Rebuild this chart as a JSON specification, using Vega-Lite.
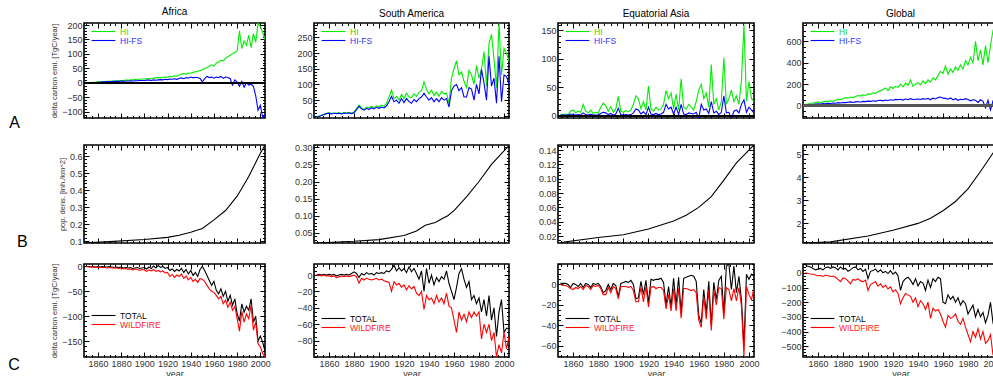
{
"$schema":"https://vega.github.io/schema/vega-lite/v6.json",
"background":"white",
"padding":{"left":8,"top":6,"right":0,"bottom":0},
"config":{
 "font":"Liberation Sans",
 "view":{"stroke":"black","strokeWidth":1.6},
 "axis":{"grid":false,"domain":false,"ticks":true,"tickSize":-5,"tickColor":"black","tickWidth":1,"labelFontSize":9,"labelColor":"#333","labelPadding":7,"titleFontSize":7.5,"titleFontWeight":"normal","titleColor":"#333"},
 "axisY":{"titlePadding":3},
 "axisX":{"titleFontSize":9,"titlePadding":1,"format":"d"},
 "title":{"fontSize":10,"fontWeight":"normal","offset":4,"font":"Liberation Sans"},
 "legend":{"symbolType":"M-3.4,0H3.4","symbolSize":49,"symbolStrokeWidth":1.3,"labelFontSize":8.5,"rowPadding":-1,"padding":0,"labelOffset":12},
 "line":{"strokeWidth":1.1},
 "point":{"opacity":0,"size":1}
},
"datasets":{
"ts":[
{"r":"AF","year":1850,"HI":0,"HI-FS":0,"TOTAL":0,"WILDFIRE":0},
{"r":"AF","year":1852,"HI":1,"HI-FS":0,"TOTAL":0,"WILDFIRE":-1},
{"r":"AF","year":1854,"HI":1,"HI-FS":1,"TOTAL":-1,"WILDFIRE":-1},
{"r":"AF","year":1856,"HI":2,"HI-FS":1,"TOTAL":0,"WILDFIRE":-1},
{"r":"AF","year":1858,"HI":2,"HI-FS":1,"TOTAL":-1,"WILDFIRE":-2},
{"r":"AF","year":1860,"HI":3,"HI-FS":2,"TOTAL":0,"WILDFIRE":-1},
{"r":"AF","year":1862,"HI":3,"HI-FS":2,"TOTAL":-1,"WILDFIRE":-2},
{"r":"AF","year":1864,"HI":4,"HI-FS":3,"TOTAL":0,"WILDFIRE":-2},
{"r":"AF","year":1866,"HI":4,"HI-FS":3,"TOTAL":-1,"WILDFIRE":-2},
{"r":"AF","year":1868,"HI":5,"HI-FS":4,"TOTAL":-1,"WILDFIRE":-3},
{"r":"AF","year":1870,"HI":5,"HI-FS":4,"TOTAL":0,"WILDFIRE":-2},
{"r":"AF","year":1872,"HI":6,"HI-FS":4,"TOTAL":-1,"WILDFIRE":-3},
{"r":"AF","year":1874,"HI":6,"HI-FS":5,"TOTAL":-2,"WILDFIRE":-3},
{"r":"AF","year":1876,"HI":7,"HI-FS":5,"TOTAL":-1,"WILDFIRE":-3},
{"r":"AF","year":1878,"HI":7,"HI-FS":5,"TOTAL":-2,"WILDFIRE":-4},
{"r":"AF","year":1880,"HI":8,"HI-FS":6,"TOTAL":-1,"WILDFIRE":-3},
{"r":"AF","year":1882,"HI":8,"HI-FS":5,"TOTAL":-3,"WILDFIRE":-5},
{"r":"AF","year":1884,"HI":9,"HI-FS":6,"TOTAL":-2,"WILDFIRE":-4},
{"r":"AF","year":1886,"HI":9,"HI-FS":6,"TOTAL":-3,"WILDFIRE":-6},
{"r":"AF","year":1888,"HI":10,"HI-FS":7,"TOTAL":-2,"WILDFIRE":-5},
{"r":"AF","year":1890,"HI":10,"HI-FS":6,"TOTAL":-4,"WILDFIRE":-7},
{"r":"AF","year":1892,"HI":11,"HI-FS":7,"TOTAL":-3,"WILDFIRE":-5},
{"r":"AF","year":1894,"HI":12,"HI-FS":7,"TOTAL":-2,"WILDFIRE":-6},
{"r":"AF","year":1896,"HI":12,"HI-FS":8,"TOTAL":-4,"WILDFIRE":-8},
{"r":"AF","year":1898,"HI":13,"HI-FS":8,"TOTAL":-3,"WILDFIRE":-6},
{"r":"AF","year":1900,"HI":13,"HI-FS":8,"TOTAL":-2,"WILDFIRE":-7},
{"r":"AF","year":1902,"HI":14,"HI-FS":9,"TOTAL":-5,"WILDFIRE":-10},
{"r":"AF","year":1904,"HI":15,"HI-FS":9,"TOTAL":-1,"WILDFIRE":-7},
{"r":"AF","year":1906,"HI":14,"HI-FS":8,"TOTAL":-4,"WILDFIRE":-9},
{"r":"AF","year":1908,"HI":16,"HI-FS":10,"TOTAL":1,"WILDFIRE":-6},
{"r":"AF","year":1910,"HI":17,"HI-FS":9,"TOTAL":-3,"WILDFIRE":-10},
{"r":"AF","year":1912,"HI":18,"HI-FS":10,"TOTAL":2,"WILDFIRE":-8},
{"r":"AF","year":1914,"HI":17,"HI-FS":11,"TOTAL":-2,"WILDFIRE":-11},
{"r":"AF","year":1916,"HI":19,"HI-FS":10,"TOTAL":0,"WILDFIRE":-9},
{"r":"AF","year":1918,"HI":20,"HI-FS":12,"TOTAL":-4,"WILDFIRE":-13},
{"r":"AF","year":1920,"HI":19,"HI-FS":11,"TOTAL":-2,"WILDFIRE":-12},
{"r":"AF","year":1922,"HI":22,"HI-FS":13,"TOTAL":-8,"WILDFIRE":-20},
{"r":"AF","year":1924,"HI":21,"HI-FS":12,"TOTAL":-5,"WILDFIRE":-16},
{"r":"AF","year":1926,"HI":24,"HI-FS":14,"TOTAL":-10,"WILDFIRE":-22},
{"r":"AF","year":1928,"HI":23,"HI-FS":12,"TOTAL":-6,"WILDFIRE":-17},
{"r":"AF","year":1930,"HI":27,"HI-FS":15,"TOTAL":-9,"WILDFIRE":-20},
{"r":"AF","year":1932,"HI":30,"HI-FS":17,"TOTAL":-4,"WILDFIRE":-15},
{"r":"AF","year":1934,"HI":32,"HI-FS":14,"TOTAL":-12,"WILDFIRE":-24},
{"r":"AF","year":1936,"HI":30,"HI-FS":18,"TOTAL":-6,"WILDFIRE":-19},
{"r":"AF","year":1938,"HI":34,"HI-FS":16,"TOTAL":-15,"WILDFIRE":-27},
{"r":"AF","year":1940,"HI":33,"HI-FS":20,"TOTAL":-8,"WILDFIRE":-22},
{"r":"AF","year":1942,"HI":36,"HI-FS":17,"TOTAL":-18,"WILDFIRE":-30},
{"r":"AF","year":1944,"HI":38,"HI-FS":19,"TOTAL":-12,"WILDFIRE":-26},
{"r":"AF","year":1946,"HI":40,"HI-FS":18,"TOTAL":-20,"WILDFIRE":-32},
{"r":"AF","year":1948,"HI":42,"HI-FS":15,"TOTAL":-6,"WILDFIRE":-24},
{"r":"AF","year":1950,"HI":45,"HI-FS":3,"TOTAL":0,"WILDFIRE":-26},
{"r":"AF","year":1952,"HI":50,"HI-FS":14,"TOTAL":-8,"WILDFIRE":-30},
{"r":"AF","year":1954,"HI":52,"HI-FS":22,"TOTAL":-18,"WILDFIRE":-38},
{"r":"AF","year":1956,"HI":58,"HI-FS":18,"TOTAL":-28,"WILDFIRE":-45},
{"r":"AF","year":1958,"HI":62,"HI-FS":20,"TOTAL":-38,"WILDFIRE":-50},
{"r":"AF","year":1960,"HI":58,"HI-FS":16,"TOTAL":-30,"WILDFIRE":-52},
{"r":"AF","year":1962,"HI":68,"HI-FS":20,"TOTAL":-48,"WILDFIRE":-58},
{"r":"AF","year":1964,"HI":72,"HI-FS":18,"TOTAL":-55,"WILDFIRE":-65},
{"r":"AF","year":1966,"HI":78,"HI-FS":22,"TOTAL":-45,"WILDFIRE":-60},
{"r":"AF","year":1968,"HI":76,"HI-FS":15,"TOTAL":-60,"WILDFIRE":-75},
{"r":"AF","year":1970,"HI":85,"HI-FS":20,"TOTAL":-50,"WILDFIRE":-68},
{"r":"AF","year":1972,"HI":90,"HI-FS":18,"TOTAL":-70,"WILDFIRE":-82},
{"r":"AF","year":1974,"HI":95,"HI-FS":14,"TOTAL":-58,"WILDFIRE":-72},
{"r":"AF","year":1976,"HI":100,"HI-FS":-8,"TOTAL":-78,"WILDFIRE":-88},
{"r":"AF","year":1978,"HI":105,"HI-FS":10,"TOTAL":-65,"WILDFIRE":-80},
{"r":"AF","year":1980,"HI":110,"HI-FS":2,"TOTAL":-95,"WILDFIRE":-105},
{"r":"AF","year":1982,"HI":180,"HI-FS":-12,"TOTAL":-110,"WILDFIRE":-130},
{"r":"AF","year":1984,"HI":118,"HI-FS":5,"TOTAL":-75,"WILDFIRE":-90},
{"r":"AF","year":1986,"HI":145,"HI-FS":-15,"TOTAL":-92,"WILDFIRE":-112},
{"r":"AF","year":1988,"HI":130,"HI-FS":0,"TOTAL":-80,"WILDFIRE":-95},
{"r":"AF","year":1990,"HI":165,"HI-FS":-8,"TOTAL":-88,"WILDFIRE":-105},
{"r":"AF","year":1992,"HI":122,"HI-FS":-5,"TOTAL":-65,"WILDFIRE":-78},
{"r":"AF","year":1994,"HI":170,"HI-FS":-12,"TOTAL":-112,"WILDFIRE":-128},
{"r":"AF","year":1996,"HI":140,"HI-FS":-45,"TOTAL":-100,"WILDFIRE":-112},
{"r":"AF","year":1998,"HI":205,"HI-FS":-95,"TOTAL":-150,"WILDFIRE":-155},
{"r":"AF","year":2000,"HI":195,"HI-FS":-78,"TOTAL":-140,"WILDFIRE":-162},
{"r":"AF","year":2002,"HI":175,"HI-FS":-120,"TOTAL":-152,"WILDFIRE":-175},
{"r":"AF","year":2004,"HI":150,"HI-FS":-110,"TOTAL":-170,"WILDFIRE":-182},
{"r":"SA","year":1850,"HI":-3,"HI-FS":-3,"TOTAL":0,"WILDFIRE":0},
{"r":"SA","year":1852,"HI":-1,"HI-FS":-2,"TOTAL":1,"WILDFIRE":0},
{"r":"SA","year":1854,"HI":2,"HI-FS":1,"TOTAL":0,"WILDFIRE":-1},
{"r":"SA","year":1856,"HI":5,"HI-FS":4,"TOTAL":1,"WILDFIRE":0},
{"r":"SA","year":1858,"HI":8,"HI-FS":7,"TOTAL":0,"WILDFIRE":-1},
{"r":"SA","year":1860,"HI":10,"HI-FS":8,"TOTAL":1,"WILDFIRE":-1},
{"r":"SA","year":1862,"HI":7,"HI-FS":6,"TOTAL":0,"WILDFIRE":-2},
{"r":"SA","year":1864,"HI":9,"HI-FS":8,"TOTAL":1,"WILDFIRE":-1},
{"r":"SA","year":1866,"HI":8,"HI-FS":7,"TOTAL":-1,"WILDFIRE":-3},
{"r":"SA","year":1868,"HI":10,"HI-FS":8,"TOTAL":0,"WILDFIRE":-2},
{"r":"SA","year":1870,"HI":7,"HI-FS":6,"TOTAL":1,"WILDFIRE":-1},
{"r":"SA","year":1872,"HI":10,"HI-FS":9,"TOTAL":0,"WILDFIRE":-2},
{"r":"SA","year":1874,"HI":9,"HI-FS":8,"TOTAL":1,"WILDFIRE":-1},
{"r":"SA","year":1876,"HI":11,"HI-FS":9,"TOTAL":0,"WILDFIRE":-2},
{"r":"SA","year":1878,"HI":8,"HI-FS":7,"TOTAL":2,"WILDFIRE":-1},
{"r":"SA","year":1880,"HI":12,"HI-FS":10,"TOTAL":4,"WILDFIRE":0},
{"r":"SA","year":1882,"HI":22,"HI-FS":20,"TOTAL":2,"WILDFIRE":-2},
{"r":"SA","year":1884,"HI":35,"HI-FS":30,"TOTAL":-3,"WILDFIRE":-10},
{"r":"SA","year":1886,"HI":25,"HI-FS":22,"TOTAL":2,"WILDFIRE":-4},
{"r":"SA","year":1888,"HI":20,"HI-FS":18,"TOTAL":0,"WILDFIRE":-6},
{"r":"SA","year":1890,"HI":28,"HI-FS":24,"TOTAL":3,"WILDFIRE":-4},
{"r":"SA","year":1892,"HI":25,"HI-FS":20,"TOTAL":1,"WILDFIRE":-5},
{"r":"SA","year":1894,"HI":30,"HI-FS":26,"TOTAL":2,"WILDFIRE":-6},
{"r":"SA","year":1896,"HI":26,"HI-FS":22,"TOTAL":0,"WILDFIRE":-5},
{"r":"SA","year":1898,"HI":32,"HI-FS":27,"TOTAL":3,"WILDFIRE":-4},
{"r":"SA","year":1900,"HI":28,"HI-FS":24,"TOTAL":2,"WILDFIRE":-6},
{"r":"SA","year":1902,"HI":34,"HI-FS":28,"TOTAL":3,"WILDFIRE":-5},
{"r":"SA","year":1904,"HI":30,"HI-FS":25,"TOTAL":2,"WILDFIRE":-7},
{"r":"SA","year":1906,"HI":40,"HI-FS":32,"TOTAL":5,"WILDFIRE":-8},
{"r":"SA","year":1908,"HI":60,"HI-FS":45,"TOTAL":4,"WILDFIRE":-9},
{"r":"SA","year":1910,"HI":82,"HI-FS":62,"TOTAL":7,"WILDFIRE":-20},
{"r":"SA","year":1912,"HI":55,"HI-FS":45,"TOTAL":12,"WILDFIRE":-8},
{"r":"SA","year":1914,"HI":62,"HI-FS":50,"TOTAL":5,"WILDFIRE":-12},
{"r":"SA","year":1916,"HI":50,"HI-FS":40,"TOTAL":9,"WILDFIRE":-10},
{"r":"SA","year":1918,"HI":68,"HI-FS":55,"TOTAL":5,"WILDFIRE":-15},
{"r":"SA","year":1920,"HI":55,"HI-FS":42,"TOTAL":8,"WILDFIRE":-12},
{"r":"SA","year":1922,"HI":72,"HI-FS":55,"TOTAL":3,"WILDFIRE":-18},
{"r":"SA","year":1924,"HI":60,"HI-FS":45,"TOTAL":10,"WILDFIRE":-13},
{"r":"SA","year":1926,"HI":58,"HI-FS":40,"TOTAL":4,"WILDFIRE":-17},
{"r":"SA","year":1928,"HI":70,"HI-FS":52,"TOTAL":8,"WILDFIRE":-14},
{"r":"SA","year":1930,"HI":62,"HI-FS":45,"TOTAL":2,"WILDFIRE":-22},
{"r":"SA","year":1932,"HI":75,"HI-FS":55,"TOTAL":-5,"WILDFIRE":-25},
{"r":"SA","year":1934,"HI":80,"HI-FS":60,"TOTAL":5,"WILDFIRE":-20},
{"r":"SA","year":1936,"HI":108,"HI-FS":72,"TOTAL":-20,"WILDFIRE":-42},
{"r":"SA","year":1938,"HI":85,"HI-FS":60,"TOTAL":8,"WILDFIRE":-25},
{"r":"SA","year":1940,"HI":70,"HI-FS":50,"TOTAL":-10,"WILDFIRE":-30},
{"r":"SA","year":1942,"HI":82,"HI-FS":58,"TOTAL":0,"WILDFIRE":-28},
{"r":"SA","year":1944,"HI":65,"HI-FS":45,"TOTAL":-12,"WILDFIRE":-35},
{"r":"SA","year":1946,"HI":75,"HI-FS":55,"TOTAL":-3,"WILDFIRE":-25},
{"r":"SA","year":1948,"HI":62,"HI-FS":45,"TOTAL":-8,"WILDFIRE":-33},
{"r":"SA","year":1950,"HI":78,"HI-FS":58,"TOTAL":-2,"WILDFIRE":-28},
{"r":"SA","year":1952,"HI":70,"HI-FS":50,"TOTAL":-5,"WILDFIRE":-35},
{"r":"SA","year":1954,"HI":72,"HI-FS":55,"TOTAL":5,"WILDFIRE":-22},
{"r":"SA","year":1956,"HI":40,"HI-FS":28,"TOTAL":-10,"WILDFIRE":-38},
{"r":"SA","year":1958,"HI":120,"HI-FS":80,"TOTAL":-20,"WILDFIRE":-40},
{"r":"SA","year":1960,"HI":150,"HI-FS":95,"TOTAL":-30,"WILDFIRE":-55},
{"r":"SA","year":1962,"HI":175,"HI-FS":100,"TOTAL":-15,"WILDFIRE":-70},
{"r":"SA","year":1964,"HI":130,"HI-FS":80,"TOTAL":2,"WILDFIRE":-45},
{"r":"SA","year":1966,"HI":140,"HI-FS":90,"TOTAL":8,"WILDFIRE":-55},
{"r":"SA","year":1968,"HI":110,"HI-FS":60,"TOTAL":-5,"WILDFIRE":-48},
{"r":"SA","year":1970,"HI":90,"HI-FS":60,"TOTAL":-15,"WILDFIRE":-57},
{"r":"SA","year":1972,"HI":145,"HI-FS":90,"TOTAL":-8,"WILDFIRE":-45},
{"r":"SA","year":1974,"HI":130,"HI-FS":85,"TOTAL":-30,"WILDFIRE":-52},
{"r":"SA","year":1976,"HI":100,"HI-FS":50,"TOTAL":-25,"WILDFIRE":-45},
{"r":"SA","year":1978,"HI":160,"HI-FS":100,"TOTAL":-35,"WILDFIRE":-50},
{"r":"SA","year":1980,"HI":120,"HI-FS":70,"TOTAL":-28,"WILDFIRE":-45},
{"r":"SA","year":1982,"HI":150,"HI-FS":148,"TOTAL":-45,"WILDFIRE":-78},
{"r":"SA","year":1984,"HI":205,"HI-FS":105,"TOTAL":-30,"WILDFIRE":-60},
{"r":"SA","year":1986,"HI":95,"HI-FS":50,"TOTAL":-50,"WILDFIRE":-70},
{"r":"SA","year":1988,"HI":230,"HI-FS":190,"TOTAL":-25,"WILDFIRE":-60},
{"r":"SA","year":1990,"HI":260,"HI-FS":95,"TOTAL":-55,"WILDFIRE":-80},
{"r":"SA","year":1992,"HI":180,"HI-FS":120,"TOTAL":-40,"WILDFIRE":-70},
{"r":"SA","year":1994,"HI":90,"HI-FS":40,"TOTAL":-75,"WILDFIRE":-100},
{"r":"SA","year":1996,"HI":295,"HI-FS":190,"TOTAL":-45,"WILDFIRE":-85},
{"r":"SA","year":1998,"HI":130,"HI-FS":45,"TOTAL":-30,"WILDFIRE":-95},
{"r":"SA","year":2000,"HI":215,"HI-FS":130,"TOTAL":-70,"WILDFIRE":-70},
{"r":"SA","year":2002,"HI":200,"HI-FS":125,"TOTAL":-65,"WILDFIRE":-90},
{"r":"SA","year":2004,"HI":175,"HI-FS":100,"TOTAL":-65,"WILDFIRE":-75},
{"r":"EA","year":1850,"HI":2,"HI-FS":1,"TOTAL":1,"WILDFIRE":0},
{"r":"EA","year":1852,"HI":2,"HI-FS":1,"TOTAL":1,"WILDFIRE":-1},
{"r":"EA","year":1854,"HI":3,"HI-FS":1,"TOTAL":1,"WILDFIRE":-1},
{"r":"EA","year":1856,"HI":2,"HI-FS":1,"TOTAL":0,"WILDFIRE":-2},
{"r":"EA","year":1858,"HI":8,"HI-FS":3,"TOTAL":-3,"WILDFIRE":-4},
{"r":"EA","year":1860,"HI":10,"HI-FS":2,"TOTAL":1,"WILDFIRE":-5},
{"r":"EA","year":1862,"HI":5,"HI-FS":1,"TOTAL":0,"WILDFIRE":-3},
{"r":"EA","year":1864,"HI":8,"HI-FS":2,"TOTAL":-2,"WILDFIRE":-4},
{"r":"EA","year":1866,"HI":6,"HI-FS":1,"TOTAL":1,"WILDFIRE":-2},
{"r":"EA","year":1868,"HI":20,"HI-FS":5,"TOTAL":-3,"WILDFIRE":-5},
{"r":"EA","year":1870,"HI":8,"HI-FS":2,"TOTAL":1,"WILDFIRE":-1},
{"r":"EA","year":1872,"HI":5,"HI-FS":1,"TOTAL":0,"WILDFIRE":-2},
{"r":"EA","year":1874,"HI":10,"HI-FS":3,"TOTAL":-3,"WILDFIRE":-5},
{"r":"EA","year":1876,"HI":4,"HI-FS":1,"TOTAL":1,"WILDFIRE":-1},
{"r":"EA","year":1878,"HI":6,"HI-FS":1,"TOTAL":0,"WILDFIRE":-2},
{"r":"EA","year":1880,"HI":5,"HI-FS":1,"TOTAL":1,"WILDFIRE":-1},
{"r":"EA","year":1882,"HI":15,"HI-FS":4,"TOTAL":-2,"WILDFIRE":-4},
{"r":"EA","year":1884,"HI":22,"HI-FS":6,"TOTAL":-8,"WILDFIRE":-10},
{"r":"EA","year":1886,"HI":18,"HI-FS":5,"TOTAL":-6,"WILDFIRE":-10},
{"r":"EA","year":1888,"HI":8,"HI-FS":2,"TOTAL":0,"WILDFIRE":-3},
{"r":"EA","year":1890,"HI":16,"HI-FS":4,"TOTAL":-5,"WILDFIRE":-8},
{"r":"EA","year":1892,"HI":6,"HI-FS":1,"TOTAL":1,"WILDFIRE":-2},
{"r":"EA","year":1894,"HI":12,"HI-FS":3,"TOTAL":-1,"WILDFIRE":-4},
{"r":"EA","year":1896,"HI":34,"HI-FS":13,"TOTAL":-12,"WILDFIRE":-14},
{"r":"EA","year":1898,"HI":8,"HI-FS":2,"TOTAL":1,"WILDFIRE":-2},
{"r":"EA","year":1900,"HI":6,"HI-FS":1,"TOTAL":2,"WILDFIRE":-2},
{"r":"EA","year":1902,"HI":9,"HI-FS":2,"TOTAL":3,"WILDFIRE":-2},
{"r":"EA","year":1904,"HI":7,"HI-FS":1,"TOTAL":2,"WILDFIRE":-3},
{"r":"EA","year":1906,"HI":10,"HI-FS":2,"TOTAL":4,"WILDFIRE":-2},
{"r":"EA","year":1908,"HI":20,"HI-FS":5,"TOTAL":0,"WILDFIRE":-6},
{"r":"EA","year":1910,"HI":35,"HI-FS":12,"TOTAL":-14,"WILDFIRE":-17},
{"r":"EA","year":1912,"HI":30,"HI-FS":10,"TOTAL":-13,"WILDFIRE":-17},
{"r":"EA","year":1914,"HI":12,"HI-FS":3,"TOTAL":3,"WILDFIRE":-3},
{"r":"EA","year":1916,"HI":25,"HI-FS":7,"TOTAL":-10,"WILDFIRE":-17},
{"r":"EA","year":1918,"HI":10,"HI-FS":2,"TOTAL":4,"WILDFIRE":-2},
{"r":"EA","year":1920,"HI":52,"HI-FS":15,"TOTAL":-18,"WILDFIRE":-22},
{"r":"EA","year":1922,"HI":12,"HI-FS":3,"TOTAL":5,"WILDFIRE":-3},
{"r":"EA","year":1924,"HI":8,"HI-FS":2,"TOTAL":4,"WILDFIRE":-2},
{"r":"EA","year":1926,"HI":15,"HI-FS":4,"TOTAL":5,"WILDFIRE":-4},
{"r":"EA","year":1928,"HI":10,"HI-FS":2,"TOTAL":5,"WILDFIRE":-3},
{"r":"EA","year":1930,"HI":12,"HI-FS":3,"TOTAL":6,"WILDFIRE":-3},
{"r":"EA","year":1932,"HI":20,"HI-FS":6,"TOTAL":2,"WILDFIRE":-6},
{"r":"EA","year":1934,"HI":44,"HI-FS":20,"TOTAL":-20,"WILDFIRE":-24},
{"r":"EA","year":1936,"HI":30,"HI-FS":12,"TOTAL":-2,"WILDFIRE":-10},
{"r":"EA","year":1938,"HI":40,"HI-FS":15,"TOTAL":-22,"WILDFIRE":-26},
{"r":"EA","year":1940,"HI":12,"HI-FS":3,"TOTAL":6,"WILDFIRE":-4},
{"r":"EA","year":1942,"HI":38,"HI-FS":15,"TOTAL":-20,"WILDFIRE":-26},
{"r":"EA","year":1944,"HI":10,"HI-FS":2,"TOTAL":7,"WILDFIRE":-4},
{"r":"EA","year":1946,"HI":65,"HI-FS":20,"TOTAL":-28,"WILDFIRE":-33},
{"r":"EA","year":1948,"HI":15,"HI-FS":3,"TOTAL":6,"WILDFIRE":-4},
{"r":"EA","year":1950,"HI":12,"HI-FS":2,"TOTAL":7,"WILDFIRE":-4},
{"r":"EA","year":1952,"HI":20,"HI-FS":5,"TOTAL":8,"WILDFIRE":-5},
{"r":"EA","year":1954,"HI":15,"HI-FS":4,"TOTAL":9,"WILDFIRE":-6},
{"r":"EA","year":1956,"HI":10,"HI-FS":3,"TOTAL":8,"WILDFIRE":-5},
{"r":"EA","year":1958,"HI":25,"HI-FS":6,"TOTAL":3,"WILDFIRE":-8},
{"r":"EA","year":1960,"HI":45,"HI-FS":-5,"TOTAL":-30,"WILDFIRE":-35},
{"r":"EA","year":1962,"HI":55,"HI-FS":20,"TOTAL":-38,"WILDFIRE":-42},
{"r":"EA","year":1964,"HI":30,"HI-FS":10,"TOTAL":-5,"WILDFIRE":-12},
{"r":"EA","year":1966,"HI":40,"HI-FS":12,"TOTAL":-28,"WILDFIRE":-34},
{"r":"EA","year":1968,"HI":15,"HI-FS":4,"TOTAL":3,"WILDFIRE":-5},
{"r":"EA","year":1970,"HI":90,"HI-FS":25,"TOTAL":-40,"WILDFIRE":-45},
{"r":"EA","year":1972,"HI":20,"HI-FS":5,"TOTAL":2,"WILDFIRE":-6},
{"r":"EA","year":1974,"HI":30,"HI-FS":8,"TOTAL":-15,"WILDFIRE":-20},
{"r":"EA","year":1976,"HI":10,"HI-FS":2,"TOTAL":4,"WILDFIRE":-3},
{"r":"EA","year":1978,"HI":25,"HI-FS":6,"TOTAL":8,"WILDFIRE":-4},
{"r":"EA","year":1980,"HI":102,"HI-FS":35,"TOTAL":-28,"WILDFIRE":-34},
{"r":"EA","year":1982,"HI":20,"HI-FS":5,"TOTAL":18,"WILDFIRE":-3},
{"r":"EA","year":1984,"HI":30,"HI-FS":6,"TOTAL":20,"WILDFIRE":-5},
{"r":"EA","year":1986,"HI":45,"HI-FS":-5,"TOTAL":-5,"WILDFIRE":-16},
{"r":"EA","year":1988,"HI":25,"HI-FS":8,"TOTAL":18,"WILDFIRE":-4},
{"r":"EA","year":1990,"HI":35,"HI-FS":10,"TOTAL":-8,"WILDFIRE":-16},
{"r":"EA","year":1992,"HI":20,"HI-FS":5,"TOTAL":8,"WILDFIRE":-3},
{"r":"EA","year":1994,"HI":62,"HI-FS":20,"TOTAL":-15,"WILDFIRE":-21},
{"r":"EA","year":1996,"HI":160,"HI-FS":28,"TOTAL":-60,"WILDFIRE":-70},
{"r":"EA","year":1998,"HI":25,"HI-FS":6,"TOTAL":10,"WILDFIRE":-2},
{"r":"EA","year":2000,"HI":60,"HI-FS":15,"TOTAL":5,"WILDFIRE":-10},
{"r":"EA","year":2002,"HI":30,"HI-FS":10,"TOTAL":10,"WILDFIRE":-15},
{"r":"EA","year":2004,"HI":25,"HI-FS":5,"TOTAL":8,"WILDFIRE":-3},
{"r":"GL","year":1850,"HI":10,"HI-FS":5,"TOTAL":50,"WILDFIRE":0},
{"r":"GL","year":1852,"HI":15,"HI-FS":8,"TOTAL":45,"WILDFIRE":-5},
{"r":"GL","year":1854,"HI":20,"HI-FS":10,"TOTAL":40,"WILDFIRE":-8},
{"r":"GL","year":1856,"HI":25,"HI-FS":12,"TOTAL":30,"WILDFIRE":-10},
{"r":"GL","year":1858,"HI":30,"HI-FS":15,"TOTAL":20,"WILDFIRE":-15},
{"r":"GL","year":1860,"HI":35,"HI-FS":18,"TOTAL":25,"WILDFIRE":-20},
{"r":"GL","year":1862,"HI":30,"HI-FS":15,"TOTAL":30,"WILDFIRE":-18},
{"r":"GL","year":1864,"HI":35,"HI-FS":20,"TOTAL":20,"WILDFIRE":-25},
{"r":"GL","year":1866,"HI":40,"HI-FS":18,"TOTAL":35,"WILDFIRE":-15},
{"r":"GL","year":1868,"HI":38,"HI-FS":22,"TOTAL":40,"WILDFIRE":-20},
{"r":"GL","year":1870,"HI":45,"HI-FS":20,"TOTAL":30,"WILDFIRE":-25},
{"r":"GL","year":1872,"HI":40,"HI-FS":25,"TOTAL":40,"WILDFIRE":-22},
{"r":"GL","year":1874,"HI":50,"HI-FS":22,"TOTAL":35,"WILDFIRE":-30},
{"r":"GL","year":1876,"HI":60,"HI-FS":28,"TOTAL":20,"WILDFIRE":-45},
{"r":"GL","year":1878,"HI":55,"HI-FS":25,"TOTAL":40,"WILDFIRE":-60},
{"r":"GL","year":1880,"HI":65,"HI-FS":30,"TOTAL":25,"WILDFIRE":-35},
{"r":"GL","year":1882,"HI":75,"HI-FS":28,"TOTAL":30,"WILDFIRE":-40},
{"r":"GL","year":1884,"HI":70,"HI-FS":32,"TOTAL":10,"WILDFIRE":-55},
{"r":"GL","year":1886,"HI":80,"HI-FS":35,"TOTAL":20,"WILDFIRE":-75},
{"r":"GL","year":1888,"HI":75,"HI-FS":30,"TOTAL":35,"WILDFIRE":-45},
{"r":"GL","year":1890,"HI":85,"HI-FS":35,"TOTAL":40,"WILDFIRE":-50},
{"r":"GL","year":1892,"HI":95,"HI-FS":38,"TOTAL":20,"WILDFIRE":-40},
{"r":"GL","year":1894,"HI":90,"HI-FS":32,"TOTAL":30,"WILDFIRE":-55},
{"r":"GL","year":1896,"HI":100,"HI-FS":40,"TOTAL":10,"WILDFIRE":-60},
{"r":"GL","year":1898,"HI":95,"HI-FS":38,"TOTAL":25,"WILDFIRE":-50},
{"r":"GL","year":1900,"HI":110,"HI-FS":42,"TOTAL":-40,"WILDFIRE":-120},
{"r":"GL","year":1902,"HI":105,"HI-FS":40,"TOTAL":10,"WILDFIRE":-80},
{"r":"GL","year":1904,"HI":120,"HI-FS":45,"TOTAL":15,"WILDFIRE":-70},
{"r":"GL","year":1906,"HI":115,"HI-FS":40,"TOTAL":25,"WILDFIRE":-60},
{"r":"GL","year":1908,"HI":130,"HI-FS":48,"TOTAL":5,"WILDFIRE":-90},
{"r":"GL","year":1910,"HI":140,"HI-FS":50,"TOTAL":20,"WILDFIRE":-75},
{"r":"GL","year":1912,"HI":150,"HI-FS":45,"TOTAL":0,"WILDFIRE":-100},
{"r":"GL","year":1914,"HI":165,"HI-FS":52,"TOTAL":10,"WILDFIRE":-85},
{"r":"GL","year":1916,"HI":140,"HI-FS":48,"TOTAL":-5,"WILDFIRE":-110},
{"r":"GL","year":1918,"HI":175,"HI-FS":55,"TOTAL":15,"WILDFIRE":-95},
{"r":"GL","year":1920,"HI":160,"HI-FS":50,"TOTAL":-10,"WILDFIRE":-130},
{"r":"GL","year":1922,"HI":180,"HI-FS":58,"TOTAL":5,"WILDFIRE":-115},
{"r":"GL","year":1924,"HI":170,"HI-FS":55,"TOTAL":-20,"WILDFIRE":-140},
{"r":"GL","year":1926,"HI":200,"HI-FS":60,"TOTAL":-120,"WILDFIRE":-210},
{"r":"GL","year":1928,"HI":175,"HI-FS":52,"TOTAL":-60,"WILDFIRE":-170},
{"r":"GL","year":1930,"HI":210,"HI-FS":62,"TOTAL":-40,"WILDFIRE":-140},
{"r":"GL","year":1932,"HI":190,"HI-FS":55,"TOTAL":-30,"WILDFIRE":-150},
{"r":"GL","year":1934,"HI":240,"HI-FS":65,"TOTAL":-50,"WILDFIRE":-160},
{"r":"GL","year":1936,"HI":180,"HI-FS":58,"TOTAL":-80,"WILDFIRE":-200},
{"r":"GL","year":1938,"HI":200,"HI-FS":60,"TOTAL":-40,"WILDFIRE":-170},
{"r":"GL","year":1940,"HI":215,"HI-FS":62,"TOTAL":-90,"WILDFIRE":-230},
{"r":"GL","year":1942,"HI":195,"HI-FS":58,"TOTAL":-60,"WILDFIRE":-190},
{"r":"GL","year":1944,"HI":230,"HI-FS":65,"TOTAL":-70,"WILDFIRE":-210},
{"r":"GL","year":1946,"HI":205,"HI-FS":60,"TOTAL":-120,"WILDFIRE":-250},
{"r":"GL","year":1948,"HI":240,"HI-FS":68,"TOTAL":-50,"WILDFIRE":-200},
{"r":"GL","year":1950,"HI":220,"HI-FS":55,"TOTAL":-100,"WILDFIRE":-310},
{"r":"GL","year":1952,"HI":260,"HI-FS":70,"TOTAL":-40,"WILDFIRE":-240},
{"r":"GL","year":1954,"HI":240,"HI-FS":62,"TOTAL":-60,"WILDFIRE":-260},
{"r":"GL","year":1956,"HI":280,"HI-FS":75,"TOTAL":-30,"WILDFIRE":-250},
{"r":"GL","year":1958,"HI":320,"HI-FS":80,"TOTAL":-40,"WILDFIRE":-280},
{"r":"GL","year":1960,"HI":300,"HI-FS":70,"TOTAL":-200,"WILDFIRE":-330},
{"r":"GL","year":1962,"HI":370,"HI-FS":68,"TOTAL":-210,"WILDFIRE":-370},
{"r":"GL","year":1964,"HI":290,"HI-FS":60,"TOTAL":-150,"WILDFIRE":-290},
{"r":"GL","year":1966,"HI":340,"HI-FS":72,"TOTAL":-180,"WILDFIRE":-310},
{"r":"GL","year":1968,"HI":310,"HI-FS":55,"TOTAL":-160,"WILDFIRE":-300},
{"r":"GL","year":1970,"HI":360,"HI-FS":65,"TOTAL":-200,"WILDFIRE":-280},
{"r":"GL","year":1972,"HI":330,"HI-FS":50,"TOTAL":-170,"WILDFIRE":-330},
{"r":"GL","year":1974,"HI":380,"HI-FS":60,"TOTAL":-220,"WILDFIRE":-350},
{"r":"GL","year":1976,"HI":340,"HI-FS":55,"TOTAL":-190,"WILDFIRE":-310},
{"r":"GL","year":1978,"HI":420,"HI-FS":65,"TOTAL":-210,"WILDFIRE":-370},
{"r":"GL","year":1980,"HI":380,"HI-FS":58,"TOTAL":-280,"WILDFIRE":-420},
{"r":"GL","year":1982,"HI":450,"HI-FS":45,"TOTAL":-250,"WILDFIRE":-470},
{"r":"GL","year":1984,"HI":400,"HI-FS":55,"TOTAL":-220,"WILDFIRE":-400},
{"r":"GL","year":1986,"HI":600,"HI-FS":50,"TOTAL":-300,"WILDFIRE":-440},
{"r":"GL","year":1988,"HI":420,"HI-FS":30,"TOTAL":-250,"WILDFIRE":-380},
{"r":"GL","year":1990,"HI":520,"HI-FS":55,"TOTAL":-300,"WILDFIRE":-450},
{"r":"GL","year":1992,"HI":380,"HI-FS":40,"TOTAL":-270,"WILDFIRE":-400},
{"r":"GL","year":1994,"HI":560,"HI-FS":-20,"TOTAL":-340,"WILDFIRE":-480},
{"r":"GL","year":1996,"HI":400,"HI-FS":50,"TOTAL":-290,"WILDFIRE":-460},
{"r":"GL","year":1998,"HI":560,"HI-FS":-40,"TOTAL":-200,"WILDFIRE":-420},
{"r":"GL","year":2000,"HI":700,"HI-FS":45,"TOTAL":-340,"WILDFIRE":-560},
{"r":"GL","year":2002,"HI":770,"HI-FS":50,"TOTAL":-400,"WILDFIRE":-480},
{"r":"GL","year":2004,"HI":480,"HI-FS":-110,"TOTAL":-420,"WILDFIRE":-510}
],
"pd":[
{"r":"AF","year":1850,"pd":0.09},{"r":"AF","year":1870,"pd":0.097},{"r":"AF","year":1900,"pd":0.11},{"r":"AF","year":1920,"pd":0.122},{"r":"AF","year":1930,"pd":0.135},{"r":"AF","year":1940,"pd":0.152},{"r":"AF","year":1950,"pd":0.174},{"r":"AF","year":1960,"pd":0.225},{"r":"AF","year":1970,"pd":0.28},{"r":"AF","year":1980,"pd":0.364},{"r":"AF","year":1990,"pd":0.48},{"r":"AF","year":2000,"pd":0.617},{"r":"AF","year":2004,"pd":0.665},
{"r":"SA","year":1850,"pd":0.02},{"r":"SA","year":1880,"pd":0.025},{"r":"SA","year":1900,"pd":0.03},{"r":"SA","year":1920,"pd":0.042},{"r":"SA","year":1930,"pd":0.055},{"r":"SA","year":1937,"pd":0.072},{"r":"SA","year":1945,"pd":0.08},{"r":"SA","year":1950,"pd":0.09},{"r":"SA","year":1955,"pd":0.1},{"r":"SA","year":1960,"pd":0.115},{"r":"SA","year":1970,"pd":0.155},{"r":"SA","year":1980,"pd":0.2},{"r":"SA","year":1990,"pd":0.25},{"r":"SA","year":2000,"pd":0.29},{"r":"SA","year":2004,"pd":0.305},
{"r":"EA","year":1850,"pd":0.011},{"r":"EA","year":1880,"pd":0.018},{"r":"EA","year":1900,"pd":0.022},{"r":"EA","year":1920,"pd":0.03},{"r":"EA","year":1940,"pd":0.041},{"r":"EA","year":1950,"pd":0.049},{"r":"EA","year":1960,"pd":0.06},{"r":"EA","year":1970,"pd":0.075},{"r":"EA","year":1980,"pd":0.098},{"r":"EA","year":1990,"pd":0.122},{"r":"EA","year":2000,"pd":0.14},{"r":"EA","year":2004,"pd":0.147},
{"r":"GL","year":1850,"pd":1.15},{"r":"GL","year":1870,"pd":1.2},{"r":"GL","year":1900,"pd":1.45},{"r":"GL","year":1920,"pd":1.7},{"r":"GL","year":1940,"pd":2.0},{"r":"GL","year":1950,"pd":2.22},{"r":"GL","year":1960,"pd":2.55},{"r":"GL","year":1970,"pd":2.95},{"r":"GL","year":1980,"pd":3.5},{"r":"GL","year":1990,"pd":4.25},{"r":"GL","year":2000,"pd":5.05},{"r":"GL","year":2004,"pd":5.4}
]
},
"spacing":11,
"vconcat":[
{"title":{"text":"A","orient":"left","anchor":"start","angle":0,"baseline":"bottom","dy":9,"fontSize":16,"offset":30},
 "spacing":49,
 "bounds":"flush",
 "resolve":{"scale":{"color":"independent"},"legend":{"color":"independent"}},
 "hconcat":[
 {"width":181,"height":95,"title":"Africa","data":{"name":"ts"},"transform":[{"filter":"datum.r=='AF'"}],
  "resolve":{"axis":{"x":"independent","y":"independent"}},
  "layer":[
  {"transform":[{"fold":["HI","HI-FS"],"as":["s","v"]}],"mark":{"type":"line","clip":true},
   "encoding":{
    "x":{"field":"year","type":"quantitative","scale":{"domain":[1848,2004],"nice":false,"zero":false},"axis":{"orient":"bottom","values":[1860,1880,1900,1920,1940,1960,1980,2000],"labels":false,"title":null}},
    "y":{"field":"v","type":"quantitative","scale":{"domain":[-122,207],"nice":false,"zero":false},"axis":{"orient":"left","values":[-100,-50,0,50,100,150,200],"title":"delta carbon emi. [TgC/year]"}},
    "color":{"field":"s","type":"nominal","scale":{"domain":["HI","HI-FS"],"range":["#00ee00","#0000ff"]},
     "legend":{"title":null,"orient":"none","legendX":15,"legendY":4,"labelColor":{"expr":"datum.value=='HI' ? '#22dd22' : '#3333ff'"}}
    }
   }
  },
  {"mark":{"type":"rule","color":"black","strokeWidth":1.5},"encoding":{"y":{"datum":0,"axis":null}}},
  {"mark":"point","encoding":{"x":{"field":"year","type":"quantitative","axis":{"orient":"top","values":[1860,1880,1900,1920,1940,1960,1980,2000],"labels":false,"title":null}},"y":{"field":"HI","type":"quantitative","axis":{"orient":"right","values":[-100,-50,0,50,100,150,200],"labels":false,"title":null}}}},
  {"mark":"point","encoding":{"x":{"field":"year","type":"quantitative","axis":{"orient":"bottom","values":[1850,1855,1860,1865,1870,1875,1880,1885,1890,1895,1900,1905,1910,1915,1920,1925,1930,1935,1940,1945,1950,1955,1960,1965,1970,1975,1980,1985,1990,1995,2000],"labels":false,"title":null,"tickSize":-2.5}},"y":{"field":"HI","type":"quantitative","axis":{"orient":"left","values":[-120,-110,-100,-90,-80,-70,-60,-50,-40,-30,-20,-10,0,10,20,30,40,50,60,70,80,90,100,110,120,130,140,150,160,170,180,190,200],"labels":false,"title":null,"tickSize":-2.5}}}},
  {"mark":"point","encoding":{"x":{"field":"year","type":"quantitative","axis":{"orient":"top","values":[1850,1855,1860,1865,1870,1875,1880,1885,1890,1895,1900,1905,1910,1915,1920,1925,1930,1935,1940,1945,1950,1955,1960,1965,1970,1975,1980,1985,1990,1995,2000],"labels":false,"title":null,"tickSize":-2.5}},"y":{"field":"HI","type":"quantitative","axis":{"orient":"right","values":[-120,-110,-100,-90,-80,-70,-60,-50,-40,-30,-20,-10,0,10,20,30,40,50,60,70,80,90,100,110,120,130,140,150,160,170,180,190,200],"labels":false,"title":null,"tickSize":-2.5}}}}
 ]},
 {"width":195,"height":95,"title":"South America","data":{"name":"ts"},"transform":[{"filter":"datum.r=='SA'"}],
  "resolve":{"axis":{"x":"independent","y":"independent"}},
  "layer":[
  {"transform":[{"fold":["HI","HI-FS"],"as":["s","v"]}],"mark":{"type":"line","clip":true},
   "encoding":{
    "x":{"field":"year","type":"quantitative","scale":{"domain":[1848,2004],"nice":false,"zero":false},"axis":{"orient":"bottom","values":[1860,1880,1900,1920,1940,1960,1980,2000],"labels":false,"title":null}},
    "y":{"field":"v","type":"quantitative","scale":{"domain":[-7,296],"nice":false,"zero":false},"axis":{"orient":"left","values":[0,50,100,150,200,250],"title":null}},
    "color":{"field":"s","type":"nominal","scale":{"domain":["HI","HI-FS"],"range":["#00ee00","#0000ff"]},
     "legend":{"title":null,"orient":"none","legendX":15,"legendY":4,"labelColor":{"expr":"datum.value=='HI' ? '#22dd22' : '#3333ff'"}}
    }
   }
  },
  {"mark":"point","encoding":{"x":{"field":"year","type":"quantitative","axis":{"orient":"top","values":[1860,1880,1900,1920,1940,1960,1980,2000],"labels":false,"title":null}},"y":{"field":"HI","type":"quantitative","axis":{"orient":"right","values":[0,50,100,150,200,250],"labels":false,"title":null}}}},
  {"mark":"point","encoding":{"x":{"field":"year","type":"quantitative","axis":{"orient":"bottom","values":[1850,1855,1860,1865,1870,1875,1880,1885,1890,1895,1900,1905,1910,1915,1920,1925,1930,1935,1940,1945,1950,1955,1960,1965,1970,1975,1980,1985,1990,1995,2000],"labels":false,"title":null,"tickSize":-2.5}},"y":{"field":"HI","type":"quantitative","axis":{"orient":"left","values":[0,10,20,30,40,50,60,70,80,90,100,110,120,130,140,150,160,170,180,190,200,210,220,230,240,250,260,270,280,290],"labels":false,"title":null,"tickSize":-2.5}}}},
  {"mark":"point","encoding":{"x":{"field":"year","type":"quantitative","axis":{"orient":"top","values":[1850,1855,1860,1865,1870,1875,1880,1885,1890,1895,1900,1905,1910,1915,1920,1925,1930,1935,1940,1945,1950,1955,1960,1965,1970,1975,1980,1985,1990,1995,2000],"labels":false,"title":null,"tickSize":-2.5}},"y":{"field":"HI","type":"quantitative","axis":{"orient":"right","values":[0,10,20,30,40,50,60,70,80,90,100,110,120,130,140,150,160,170,180,190,200,210,220,230,240,250,260,270,280,290],"labels":false,"title":null,"tickSize":-2.5}}}}
 ]},
 {"width":196,"height":95,"title":"Equatorial Asia","data":{"name":"ts"},"transform":[{"filter":"datum.r=='EA'"}],
  "resolve":{"axis":{"x":"independent","y":"independent"}},
  "layer":[
  {"transform":[{"fold":["HI","HI-FS"],"as":["s","v"]}],"mark":{"type":"line","clip":true},
   "encoding":{
    "x":{"field":"year","type":"quantitative","scale":{"domain":[1848,2004],"nice":false,"zero":false},"axis":{"orient":"bottom","values":[1860,1880,1900,1920,1940,1960,1980,2000],"labels":false,"title":null}},
    "y":{"field":"v","type":"quantitative","scale":{"domain":[-4,163],"nice":false,"zero":false},"axis":{"orient":"left","values":[0,50,100,150],"title":null}},
    "color":{"field":"s","type":"nominal","scale":{"domain":["HI","HI-FS"],"range":["#00ee00","#0000ff"]},
     "legend":{"title":null,"orient":"none","legendX":15,"legendY":4,"labelColor":{"expr":"datum.value=='HI' ? '#22dd22' : '#3333ff'"}}
    }
   }
  },
  {"mark":{"type":"rule","color":"black","strokeWidth":1.5},"encoding":{"y":{"datum":0,"axis":null}}},
  {"mark":"point","encoding":{"x":{"field":"year","type":"quantitative","axis":{"orient":"top","values":[1860,1880,1900,1920,1940,1960,1980,2000],"labels":false,"title":null}},"y":{"field":"HI","type":"quantitative","axis":{"orient":"right","values":[0,50,100,150],"labels":false,"title":null}}}},
  {"mark":"point","encoding":{"x":{"field":"year","type":"quantitative","axis":{"orient":"bottom","values":[1850,1855,1860,1865,1870,1875,1880,1885,1890,1895,1900,1905,1910,1915,1920,1925,1930,1935,1940,1945,1950,1955,1960,1965,1970,1975,1980,1985,1990,1995,2000],"labels":false,"title":null,"tickSize":-2.5}},"y":{"field":"HI","type":"quantitative","axis":{"orient":"left","values":[0,10,20,30,40,50,60,70,80,90,100,110,120,130,140,150,160],"labels":false,"title":null,"tickSize":-2.5}}}},
  {"mark":"point","encoding":{"x":{"field":"year","type":"quantitative","axis":{"orient":"top","values":[1850,1855,1860,1865,1870,1875,1880,1885,1890,1895,1900,1905,1910,1915,1920,1925,1930,1935,1940,1945,1950,1955,1960,1965,1970,1975,1980,1985,1990,1995,2000],"labels":false,"title":null,"tickSize":-2.5}},"y":{"field":"HI","type":"quantitative","axis":{"orient":"right","values":[0,10,20,30,40,50,60,70,80,90,100,110,120,130,140,150,160],"labels":false,"title":null,"tickSize":-2.5}}}}
 ]},
 {"width":195,"height":95,"title":"Global","data":{"name":"ts"},"transform":[{"filter":"datum.r=='GL'"}],
  "resolve":{"axis":{"x":"independent","y":"independent"}},
  "layer":[
  {"transform":[{"fold":["HI","HI-FS"],"as":["s","v"]}],"mark":{"type":"line","clip":true},
   "encoding":{
    "x":{"field":"year","type":"quantitative","scale":{"domain":[1848,2004],"nice":false,"zero":false},"axis":{"orient":"bottom","values":[1860,1880,1900,1920,1940,1960,1980,2000],"labels":false,"title":null}},
    "y":{"field":"v","type":"quantitative","scale":{"domain":[-115,770],"nice":false,"zero":false},"axis":{"orient":"left","values":[0,200,400,600],"title":null}},
    "color":{"field":"s","type":"nominal","scale":{"domain":["HI","HI-FS"],"range":["#00ee00","#0000ff"]},
     "legend":{"title":null,"orient":"none","legendX":15,"legendY":4,"labelColor":{"expr":"datum.value=='HI' ? '#22dd22' : '#3333ff'"}}
    }
   }
  },
  {"mark":{"type":"rule","color":"#555","strokeWidth":1.8},"encoding":{"y":{"datum":0,"axis":null}}},
  {"mark":"point","encoding":{"x":{"field":"year","type":"quantitative","axis":{"orient":"top","values":[1860,1880,1900,1920,1940,1960,1980,2000],"labels":false,"title":null}},"y":{"field":"HI","type":"quantitative","axis":{"orient":"right","values":[0,200,400,600],"labels":false,"title":null}}}},
  {"mark":"point","encoding":{"x":{"field":"year","type":"quantitative","axis":{"orient":"bottom","values":[1850,1855,1860,1865,1870,1875,1880,1885,1890,1895,1900,1905,1910,1915,1920,1925,1930,1935,1940,1945,1950,1955,1960,1965,1970,1975,1980,1985,1990,1995,2000],"labels":false,"title":null,"tickSize":-2.5}},"y":{"field":"HI","type":"quantitative","axis":{"orient":"left","values":[-100,-50,0,50,100,150,200,250,300,350,400,450,500,550,600,650,700,750],"labels":false,"title":null,"tickSize":-2.5}}}},
  {"mark":"point","encoding":{"x":{"field":"year","type":"quantitative","axis":{"orient":"top","values":[1850,1855,1860,1865,1870,1875,1880,1885,1890,1895,1900,1905,1910,1915,1920,1925,1930,1935,1940,1945,1950,1955,1960,1965,1970,1975,1980,1985,1990,1995,2000],"labels":false,"title":null,"tickSize":-2.5}},"y":{"field":"HI","type":"quantitative","axis":{"orient":"right","values":[-100,-50,0,50,100,150,200,250,300,350,400,450,500,550,600,650,700,750],"labels":false,"title":null,"tickSize":-2.5}}}}
 ]}
 ]},
{"title":{"text":"B","orient":"left","anchor":"start","angle":0,"baseline":"bottom","dy":3,"fontSize":16,"offset":30},
 "spacing":49,
 "bounds":"flush",
 "hconcat":[
 {"width":181,"height":98,"data":{"name":"pd"},"transform":[{"filter":"datum.r=='AF'"}],
  "resolve":{"axis":{"x":"independent","y":"independent"}},
  "layer":[
  {"mark":{"type":"line","color":"black","clip":true},
   "encoding":{
    "x":{"field":"year","type":"quantitative","scale":{"domain":[1848,2004],"nice":false,"zero":false},"axis":{"orient":"bottom","values":[1860,1880,1900,1920,1940,1960,1980,2000],"labels":false,"title":null}},
    "y":{"field":"pd","type":"quantitative","scale":{"domain":[0.089,0.665],"nice":false,"zero":false},"axis":{"orient":"left","values":[0.1,0.2,0.3,0.4,0.5,0.6],"format":".1f","title":"pop. dens. [inh./km^2]"}}
   }
  },
  {"mark":"point","encoding":{"x":{"field":"year","type":"quantitative","axis":{"orient":"top","values":[1860,1880,1900,1920,1940,1960,1980,2000],"labels":false,"title":null}},"y":{"field":"pd","type":"quantitative","axis":{"orient":"right","values":[0.1,0.2,0.3,0.4,0.5,0.6],"labels":false,"title":null}}}},
  {"mark":"point","encoding":{"x":{"field":"year","type":"quantitative","axis":{"orient":"bottom","values":[1850,1855,1860,1865,1870,1875,1880,1885,1890,1895,1900,1905,1910,1915,1920,1925,1930,1935,1940,1945,1950,1955,1960,1965,1970,1975,1980,1985,1990,1995,2000],"labels":false,"title":null,"tickSize":-2.5}},"y":{"field":"pd","type":"quantitative","axis":{"orient":"left","values":[0.1,0.12,0.14,0.16,0.18,0.2,0.22,0.24,0.26,0.28,0.3,0.32,0.34,0.36,0.38,0.4,0.42,0.44,0.46,0.48,0.5,0.52,0.54,0.56,0.58,0.6,0.62,0.64],"labels":false,"title":null,"tickSize":-2.5}}}},
  {"mark":"point","encoding":{"x":{"field":"year","type":"quantitative","axis":{"orient":"top","values":[1850,1855,1860,1865,1870,1875,1880,1885,1890,1895,1900,1905,1910,1915,1920,1925,1930,1935,1940,1945,1950,1955,1960,1965,1970,1975,1980,1985,1990,1995,2000],"labels":false,"title":null,"tickSize":-2.5}},"y":{"field":"pd","type":"quantitative","axis":{"orient":"right","values":[0.1,0.12,0.14,0.16,0.18,0.2,0.22,0.24,0.26,0.28,0.3,0.32,0.34,0.36,0.38,0.4,0.42,0.44,0.46,0.48,0.5,0.52,0.54,0.56,0.58,0.6,0.62,0.64],"labels":false,"title":null,"tickSize":-2.5}}}}
 ]},
 {"width":195,"height":98,"data":{"name":"pd"},"transform":[{"filter":"datum.r=='SA'"}],
  "resolve":{"axis":{"x":"independent","y":"independent"}},
  "layer":[
  {"mark":{"type":"line","color":"black","clip":true},
   "encoding":{
    "x":{"field":"year","type":"quantitative","scale":{"domain":[1848,2004],"nice":false,"zero":false},"axis":{"orient":"bottom","values":[1860,1880,1900,1920,1940,1960,1980,2000],"labels":false,"title":null}},
    "y":{"field":"pd","type":"quantitative","scale":{"domain":[0.02,0.307],"nice":false,"zero":false},"axis":{"orient":"left","values":[0.05,0.1,0.15,0.2,0.25,0.3],"format":".2f","title":null}}
   }
  },
  {"mark":"point","encoding":{"x":{"field":"year","type":"quantitative","axis":{"orient":"top","values":[1860,1880,1900,1920,1940,1960,1980,2000],"labels":false,"title":null}},"y":{"field":"pd","type":"quantitative","axis":{"orient":"right","values":[0.05,0.1,0.15,0.2,0.25,0.3],"labels":false,"title":null}}}},
  {"mark":"point","encoding":{"x":{"field":"year","type":"quantitative","axis":{"orient":"bottom","values":[1850,1855,1860,1865,1870,1875,1880,1885,1890,1895,1900,1905,1910,1915,1920,1925,1930,1935,1940,1945,1950,1955,1960,1965,1970,1975,1980,1985,1990,1995,2000],"labels":false,"title":null,"tickSize":-2.5}},"y":{"field":"pd","type":"quantitative","axis":{"orient":"left","values":[0.03,0.04,0.05,0.06,0.07,0.08,0.09,0.1,0.11,0.12,0.13,0.14,0.15,0.16,0.17,0.18,0.19,0.2,0.21,0.22,0.23,0.24,0.25,0.26,0.27,0.28,0.29,0.3],"labels":false,"title":null,"tickSize":-2.5}}}},
  {"mark":"point","encoding":{"x":{"field":"year","type":"quantitative","axis":{"orient":"top","values":[1850,1855,1860,1865,1870,1875,1880,1885,1890,1895,1900,1905,1910,1915,1920,1925,1930,1935,1940,1945,1950,1955,1960,1965,1970,1975,1980,1985,1990,1995,2000],"labels":false,"title":null,"tickSize":-2.5}},"y":{"field":"pd","type":"quantitative","axis":{"orient":"right","values":[0.03,0.04,0.05,0.06,0.07,0.08,0.09,0.1,0.11,0.12,0.13,0.14,0.15,0.16,0.17,0.18,0.19,0.2,0.21,0.22,0.23,0.24,0.25,0.26,0.27,0.28,0.29,0.3],"labels":false,"title":null,"tickSize":-2.5}}}}
 ]},
 {"width":196,"height":98,"data":{"name":"pd"},"transform":[{"filter":"datum.r=='EA'"}],
  "resolve":{"axis":{"x":"independent","y":"independent"}},
  "layer":[
  {"mark":{"type":"line","color":"black","clip":true},
   "encoding":{
    "x":{"field":"year","type":"quantitative","scale":{"domain":[1848,2004],"nice":false,"zero":false},"axis":{"orient":"bottom","values":[1860,1880,1900,1920,1940,1960,1980,2000],"labels":false,"title":null}},
    "y":{"field":"pd","type":"quantitative","scale":{"domain":[0.0104,0.147],"nice":false,"zero":false},"axis":{"orient":"left","values":[0.02,0.04,0.06,0.08,0.1,0.12,0.14],"format":".2f","title":null}}
   }
  },
  {"mark":"point","encoding":{"x":{"field":"year","type":"quantitative","axis":{"orient":"top","values":[1860,1880,1900,1920,1940,1960,1980,2000],"labels":false,"title":null}},"y":{"field":"pd","type":"quantitative","axis":{"orient":"right","values":[0.02,0.04,0.06,0.08,0.1,0.12,0.14],"labels":false,"title":null}}}},
  {"mark":"point","encoding":{"x":{"field":"year","type":"quantitative","axis":{"orient":"bottom","values":[1850,1855,1860,1865,1870,1875,1880,1885,1890,1895,1900,1905,1910,1915,1920,1925,1930,1935,1940,1945,1950,1955,1960,1965,1970,1975,1980,1985,1990,1995,2000],"labels":false,"title":null,"tickSize":-2.5}},"y":{"field":"pd","type":"quantitative","axis":{"orient":"left","values":[0.015,0.02,0.025,0.03,0.035,0.04,0.045,0.05,0.055,0.06,0.065,0.07,0.075,0.08,0.085,0.09,0.095,0.1,0.105,0.11,0.115,0.12,0.125,0.13,0.135,0.14,0.145],"labels":false,"title":null,"tickSize":-2.5}}}},
  {"mark":"point","encoding":{"x":{"field":"year","type":"quantitative","axis":{"orient":"top","values":[1850,1855,1860,1865,1870,1875,1880,1885,1890,1895,1900,1905,1910,1915,1920,1925,1930,1935,1940,1945,1950,1955,1960,1965,1970,1975,1980,1985,1990,1995,2000],"labels":false,"title":null,"tickSize":-2.5}},"y":{"field":"pd","type":"quantitative","axis":{"orient":"right","values":[0.015,0.02,0.025,0.03,0.035,0.04,0.045,0.05,0.055,0.06,0.065,0.07,0.075,0.08,0.085,0.09,0.095,0.1,0.105,0.11,0.115,0.12,0.125,0.13,0.135,0.14,0.145],"labels":false,"title":null,"tickSize":-2.5}}}}
 ]},
 {"width":195,"height":98,"data":{"name":"pd"},"transform":[{"filter":"datum.r=='GL'"}],
  "resolve":{"axis":{"x":"independent","y":"independent"}},
  "layer":[
  {"mark":{"type":"line","color":"black","clip":true},
   "encoding":{
    "x":{"field":"year","type":"quantitative","scale":{"domain":[1848,2004],"nice":false,"zero":false},"axis":{"orient":"bottom","values":[1860,1880,1900,1920,1940,1960,1980,2000],"labels":false,"title":null}},
    "y":{"field":"pd","type":"quantitative","scale":{"domain":[1.15,5.4],"nice":false,"zero":false},"axis":{"orient":"left","values":[2,3,4,5],"title":null}}
   }
  },
  {"mark":"point","encoding":{"x":{"field":"year","type":"quantitative","axis":{"orient":"top","values":[1860,1880,1900,1920,1940,1960,1980,2000],"labels":false,"title":null}},"y":{"field":"pd","type":"quantitative","axis":{"orient":"right","values":[2,3,4,5],"labels":false,"title":null}}}},
  {"mark":"point","encoding":{"x":{"field":"year","type":"quantitative","axis":{"orient":"bottom","values":[1850,1855,1860,1865,1870,1875,1880,1885,1890,1895,1900,1905,1910,1915,1920,1925,1930,1935,1940,1945,1950,1955,1960,1965,1970,1975,1980,1985,1990,1995,2000],"labels":false,"title":null,"tickSize":-2.5}},"y":{"field":"pd","type":"quantitative","axis":{"orient":"left","values":[1.2,1.4,1.6,1.8,2,2.2,2.4,2.6,2.8,3,3.2,3.4,3.6,3.8,4,4.2,4.4,4.6,4.8,5,5.2,5.4],"labels":false,"title":null,"tickSize":-2.5}}}},
  {"mark":"point","encoding":{"x":{"field":"year","type":"quantitative","axis":{"orient":"top","values":[1850,1855,1860,1865,1870,1875,1880,1885,1890,1895,1900,1905,1910,1915,1920,1925,1930,1935,1940,1945,1950,1955,1960,1965,1970,1975,1980,1985,1990,1995,2000],"labels":false,"title":null,"tickSize":-2.5}},"y":{"field":"pd","type":"quantitative","axis":{"orient":"right","values":[1.2,1.4,1.6,1.8,2,2.2,2.4,2.6,2.8,3,3.2,3.4,3.6,3.8,4,4.2,4.4,4.6,4.8,5,5.2,5.4],"labels":false,"title":null,"tickSize":-2.5}}}}
 ]}
 ]},
{"title":{"text":"C","orient":"left","anchor":"start","angle":0,"baseline":"bottom","dy":-6,"fontSize":16,"offset":30},
 "spacing":49,
 "bounds":"flush",
 "resolve":{"scale":{"color":"independent"},"legend":{"color":"independent"}},
 "hconcat":[
 {"width":181,"height":93,"data":{"name":"ts"},"transform":[{"filter":"datum.r=='AF'"},{"fold":["TOTAL","WILDFIRE"],"as":["s","v"]}],
  "resolve":{"axis":{"x":"independent","y":"independent"}},
  "layer":[
  {"mark":{"type":"line","clip":true},
   "encoding":{
    "x":{"field":"year","type":"quantitative","scale":{"domain":[1848,2004],"nice":false,"zero":false},"axis":{"orient":"bottom","values":[1860,1880,1900,1920,1940,1960,1980,2000],"title":"year"}},
    "y":{"field":"v","type":"quantitative","scale":{"domain":[-182,5],"nice":false,"zero":false},"axis":{"orient":"left","values":[-150,-100,-50,0],"title":"delta carbon emi. [TgC/year]"}},
    "color":{"field":"s","type":"nominal","scale":{"domain":["TOTAL","WILDFIRE"],"range":["#000000","#ff0000"]},
     "legend":{"title":null,"orient":"none","legendX":15,"legendY":47,"labelColor":{"expr":"datum.value=='TOTAL' ? '#000000' : '#ff2222'"}}
    }
   }
  },
  {"mark":"point","encoding":{"x":{"field":"year","type":"quantitative","axis":{"orient":"top","values":[1860,1880,1900,1920,1940,1960,1980,2000],"labels":false,"title":null}},"y":{"field":"v","type":"quantitative","axis":{"orient":"right","values":[-150,-100,-50,0],"labels":false,"title":null}}}},
  {"mark":"point","encoding":{"x":{"field":"year","type":"quantitative","axis":{"orient":"bottom","values":[1850,1855,1860,1865,1870,1875,1880,1885,1890,1895,1900,1905,1910,1915,1920,1925,1930,1935,1940,1945,1950,1955,1960,1965,1970,1975,1980,1985,1990,1995,2000],"labels":false,"title":null,"tickSize":-2.5}},"y":{"field":"v","type":"quantitative","axis":{"orient":"left","values":[-180,-170,-160,-150,-140,-130,-120,-110,-100,-90,-80,-70,-60,-50,-40,-30,-20,-10,0],"labels":false,"title":null,"tickSize":-2.5}}}},
  {"mark":"point","encoding":{"x":{"field":"year","type":"quantitative","axis":{"orient":"top","values":[1850,1855,1860,1865,1870,1875,1880,1885,1890,1895,1900,1905,1910,1915,1920,1925,1930,1935,1940,1945,1950,1955,1960,1965,1970,1975,1980,1985,1990,1995,2000],"labels":false,"title":null,"tickSize":-2.5}},"y":{"field":"v","type":"quantitative","axis":{"orient":"right","values":[-180,-170,-160,-150,-140,-130,-120,-110,-100,-90,-80,-70,-60,-50,-40,-30,-20,-10,0],"labels":false,"title":null,"tickSize":-2.5}}}}
 ]},
 {"width":195,"height":93,"data":{"name":"ts"},"transform":[{"filter":"datum.r=='SA'"},{"fold":["TOTAL","WILDFIRE"],"as":["s","v"]}],
  "resolve":{"axis":{"x":"independent","y":"independent"}},
  "layer":[
  {"mark":{"type":"line","clip":true},
   "encoding":{
    "x":{"field":"year","type":"quantitative","scale":{"domain":[1848,2004],"nice":false,"zero":false},"axis":{"orient":"bottom","values":[1860,1880,1900,1920,1940,1960,1980,2000],"title":"year"}},
    "y":{"field":"v","type":"quantitative","scale":{"domain":[-100,13.5],"nice":false,"zero":false},"axis":{"orient":"left","values":[-80,-60,-40,-20,0],"title":null}},
    "color":{"field":"s","type":"nominal","scale":{"domain":["TOTAL","WILDFIRE"],"range":["#000000","#ff0000"]},
     "legend":{"title":null,"orient":"none","legendX":15,"legendY":50,"labelColor":{"expr":"datum.value=='TOTAL' ? '#000000' : '#ff2222'"}}
    }
   }
  },
  {"mark":"point","encoding":{"x":{"field":"year","type":"quantitative","axis":{"orient":"top","values":[1860,1880,1900,1920,1940,1960,1980,2000],"labels":false,"title":null}},"y":{"field":"v","type":"quantitative","axis":{"orient":"right","values":[-80,-60,-40,-20,0],"labels":false,"title":null}}}},
  {"mark":"point","encoding":{"x":{"field":"year","type":"quantitative","axis":{"orient":"bottom","values":[1850,1855,1860,1865,1870,1875,1880,1885,1890,1895,1900,1905,1910,1915,1920,1925,1930,1935,1940,1945,1950,1955,1960,1965,1970,1975,1980,1985,1990,1995,2000],"labels":false,"title":null,"tickSize":-2.5}},"y":{"field":"v","type":"quantitative","axis":{"orient":"left","values":[-100,-95,-90,-85,-80,-75,-70,-65,-60,-55,-50,-45,-40,-35,-30,-25,-20,-15,-10,-5,0,5,10],"labels":false,"title":null,"tickSize":-2.5}}}},
  {"mark":"point","encoding":{"x":{"field":"year","type":"quantitative","axis":{"orient":"top","values":[1850,1855,1860,1865,1870,1875,1880,1885,1890,1895,1900,1905,1910,1915,1920,1925,1930,1935,1940,1945,1950,1955,1960,1965,1970,1975,1980,1985,1990,1995,2000],"labels":false,"title":null,"tickSize":-2.5}},"y":{"field":"v","type":"quantitative","axis":{"orient":"right","values":[-100,-95,-90,-85,-80,-75,-70,-65,-60,-55,-50,-45,-40,-35,-30,-25,-20,-15,-10,-5,0,5,10],"labels":false,"title":null,"tickSize":-2.5}}}}
 ]},
 {"width":196,"height":93,"data":{"name":"ts"},"transform":[{"filter":"datum.r=='EA'"},{"fold":["TOTAL","WILDFIRE"],"as":["s","v"]}],
  "resolve":{"axis":{"x":"independent","y":"independent"}},
  "layer":[
  {"mark":{"type":"line","clip":true},
   "encoding":{
    "x":{"field":"year","type":"quantitative","scale":{"domain":[1848,2004],"nice":false,"zero":false},"axis":{"orient":"bottom","values":[1860,1880,1900,1920,1940,1960,1980,2000],"title":"year"}},
    "y":{"field":"v","type":"quantitative","scale":{"domain":[-71,20],"nice":false,"zero":false},"axis":{"orient":"left","values":[-60,-40,-20,0],"title":null}},
    "color":{"field":"s","type":"nominal","scale":{"domain":["TOTAL","WILDFIRE"],"range":["#000000","#ff0000"]},
     "legend":{"title":null,"orient":"none","legendX":15,"legendY":50,"labelColor":{"expr":"datum.value=='TOTAL' ? '#000000' : '#ff2222'"}}
    }
   }
  },
  {"mark":"point","encoding":{"x":{"field":"year","type":"quantitative","axis":{"orient":"top","values":[1860,1880,1900,1920,1940,1960,1980,2000],"labels":false,"title":null}},"y":{"field":"v","type":"quantitative","axis":{"orient":"right","values":[-60,-40,-20,0],"labels":false,"title":null}}}},
  {"mark":"point","encoding":{"x":{"field":"year","type":"quantitative","axis":{"orient":"bottom","values":[1850,1855,1860,1865,1870,1875,1880,1885,1890,1895,1900,1905,1910,1915,1920,1925,1930,1935,1940,1945,1950,1955,1960,1965,1970,1975,1980,1985,1990,1995,2000],"labels":false,"title":null,"tickSize":-2.5}},"y":{"field":"v","type":"quantitative","axis":{"orient":"left","values":[-70,-65,-60,-55,-50,-45,-40,-35,-30,-25,-20,-15,-10,-5,0,5,10,15,20],"labels":false,"title":null,"tickSize":-2.5}}}},
  {"mark":"point","encoding":{"x":{"field":"year","type":"quantitative","axis":{"orient":"top","values":[1850,1855,1860,1865,1870,1875,1880,1885,1890,1895,1900,1905,1910,1915,1920,1925,1930,1935,1940,1945,1950,1955,1960,1965,1970,1975,1980,1985,1990,1995,2000],"labels":false,"title":null,"tickSize":-2.5}},"y":{"field":"v","type":"quantitative","axis":{"orient":"right","values":[-70,-65,-60,-55,-50,-45,-40,-35,-30,-25,-20,-15,-10,-5,0,5,10,15,20],"labels":false,"title":null,"tickSize":-2.5}}}}
 ]},
 {"width":195,"height":93,"data":{"name":"ts"},"transform":[{"filter":"datum.r=='GL'"},{"fold":["TOTAL","WILDFIRE"],"as":["s","v"]}],
  "resolve":{"axis":{"x":"independent","y":"independent"}},
  "layer":[
  {"mark":{"type":"line","clip":true},
   "encoding":{
    "x":{"field":"year","type":"quantitative","scale":{"domain":[1848,2004],"nice":false,"zero":false},"axis":{"orient":"bottom","values":[1860,1880,1900,1920,1940,1960,1980,2000],"title":"year"}},
    "y":{"field":"v","type":"quantitative","scale":{"domain":[-573,60],"nice":false,"zero":false},"axis":{"orient":"left","values":[-500,-400,-300,-200,-100,0],"title":null}},
    "color":{"field":"s","type":"nominal","scale":{"domain":["TOTAL","WILDFIRE"],"range":["#000000","#ff0000"]},
     "legend":{"title":null,"orient":"none","legendX":15,"legendY":50,"labelColor":{"expr":"datum.value=='TOTAL' ? '#000000' : '#ff2222'"}}
    }
   }
  },
  {"mark":"point","encoding":{"x":{"field":"year","type":"quantitative","axis":{"orient":"top","values":[1860,1880,1900,1920,1940,1960,1980,2000],"labels":false,"title":null}},"y":{"field":"v","type":"quantitative","axis":{"orient":"right","values":[-500,-400,-300,-200,-100,0],"labels":false,"title":null}}}},
  {"mark":"point","encoding":{"x":{"field":"year","type":"quantitative","axis":{"orient":"bottom","values":[1850,1855,1860,1865,1870,1875,1880,1885,1890,1895,1900,1905,1910,1915,1920,1925,1930,1935,1940,1945,1950,1955,1960,1965,1970,1975,1980,1985,1990,1995,2000],"labels":false,"title":null,"tickSize":-2.5}},"y":{"field":"v","type":"quantitative","axis":{"orient":"left","values":[-560,-540,-520,-500,-480,-460,-440,-420,-400,-380,-360,-340,-320,-300,-280,-260,-240,-220,-200,-180,-160,-140,-120,-100,-80,-60,-40,-20,0,20,40,60],"labels":false,"title":null,"tickSize":-2.5}}}},
  {"mark":"point","encoding":{"x":{"field":"year","type":"quantitative","axis":{"orient":"top","values":[1850,1855,1860,1865,1870,1875,1880,1885,1890,1895,1900,1905,1910,1915,1920,1925,1930,1935,1940,1945,1950,1955,1960,1965,1970,1975,1980,1985,1990,1995,2000],"labels":false,"title":null,"tickSize":-2.5}},"y":{"field":"v","type":"quantitative","axis":{"orient":"right","values":[-560,-540,-520,-500,-480,-460,-440,-420,-400,-380,-360,-340,-320,-300,-280,-260,-240,-220,-200,-180,-160,-140,-120,-100,-80,-60,-40,-20,0,20,40,60],"labels":false,"title":null,"tickSize":-2.5}}}}
 ]}
 ]}
]
}
